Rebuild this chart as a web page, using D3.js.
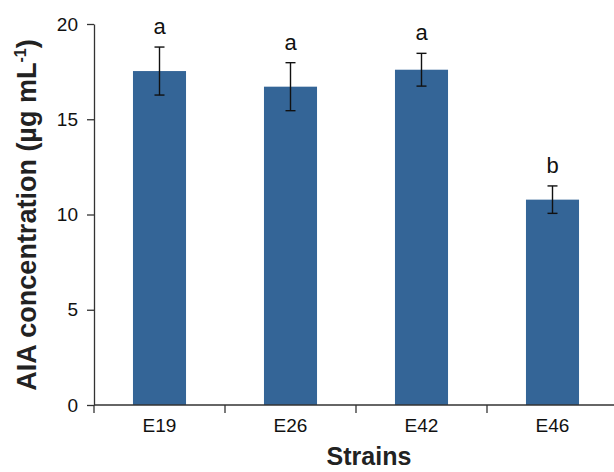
<!DOCTYPE html>
<html>
<head>
<meta charset="utf-8">
<script src="https://cdn.jsdelivr.net/npm/d3@7"></script>
<style>
  body { margin: 0; background: #fff; }
  text { font-family: "Liberation Sans", Arial, sans-serif; }
</style>
</head>
<body>
<div id="viz"></div>
<script>
// data
const strains = ['E19', 'E26', 'E42', 'E46'];
const means = [17.53, 16.71, 17.6, 10.78];
const errs = [1.26, 1.26, 0.86, 0.72];
const letters = ['a', 'a', 'a', 'b'];
const yTicks = [0, 5, 10, 15, 20];

const barColor = '#346597';

const width = 614;
const height = 472;
const margin = { left: 94, top: 24, bottom: 67 };

let svg = d3
  .select('#viz')
  .append('svg')
  .attr('width', width)
  .attr('height', height);

let x = d3
  .scaleBand()
  .domain(strains)
  .range([margin.left, margin.left + 4 * 131])
  .paddingInner(0.595)
  .paddingOuter(0.2975);

let y = d3
  .scaleLinear()
  .domain([0, 20])
  .range([height - margin.bottom, margin.top]);

// bars
svg
  .selectAll('rect.bar')
  .data(strains)
  .enter()
  .append('rect')
  .attr('class', 'bar')
  .attr('x', (d) => x(d))
  .attr('width', x.bandwidth())
  .attr('y', (d, i) => y(means[i]))
  .attr('height', (d, i) => y(0) - y(means[i]))
  .attr('fill', barColor);

// error bars
let eb = svg
  .append('g')
  .attr('stroke', '#111')
  .attr('stroke-width', 1.4);

strains.forEach((s, i) => {
  let cx = x(s) + x.bandwidth() / 2;
  let top = y(means[i] + errs[i]);
  let bot = y(means[i] - errs[i]);
  eb.append('line').attr('x1', cx).attr('x2', cx).attr('y1', top).attr('y2', bot);
  eb.append('line').attr('x1', cx - 5).attr('x2', cx + 5).attr('y1', top).attr('y2', top);
  eb.append('line').attr('x1', cx - 5).attr('x2', cx + 5).attr('y1', bot).attr('y2', bot);

  svg
    .append('text')
    .attr('x', cx)
    .attr('y', top - 13)
    .attr('text-anchor', 'middle')
    .attr('font-size', 22)
    .attr('fill', '#111')
    .text(letters[i]);
});

// x axis with ticks between categories
let xAxis = svg.append('g');
xAxis
  .append('line')
  .attr('x1', margin.left)
  .attr('x2', margin.left + 4 * 131)
  .attr('y1', y(0))
  .attr('y2', y(0))
  .attr('stroke', '#333')
  .attr('stroke-width', 1.3);

d3.range(strains.length + 1).forEach((i) => {
  let tx = i < strains.length ? x(strains[i]) - x.step() * x.paddingOuter() : margin.left + 4 * 131;
  xAxis
    .append('line')
    .attr('x1', tx)
    .attr('x2', tx)
    .attr('y1', y(0))
    .attr('y2', y(0) + 8)
    .attr('stroke', '#333')
    .attr('stroke-width', 1.3);
});

xAxis
  .selectAll('text')
  .data(strains)
  .enter()
  .append('text')
  .attr('x', (d) => x(d) + x.bandwidth() / 2)
  .attr('y', y(0) + 27)
  .attr('text-anchor', 'middle')
  .attr('font-size', 19)
  .attr('fill', '#111')
  .text((d) => d);

// y axis
let yAxis = svg
  .append('g')
  .attr('transform', `translate(${margin.left},0)`)
  .call(d3.axisLeft(y).tickValues(yTicks).tickSize(7).tickSizeOuter(0).tickPadding(9));

yAxis.select('.domain').attr('stroke', '#333').attr('stroke-width', 1.3);
yAxis.selectAll('.tick line').attr('stroke', '#333').attr('stroke-width', 1.3);
yAxis
  .selectAll('.tick text')
  .attr('font-size', 19)
  .attr('fill', '#111')
  .style('font-family', '"Liberation Sans", Arial, sans-serif');

// axis titles
svg
  .append('text')
  .attr('x', 369)
  .attr('y', 465)
  .attr('text-anchor', 'middle')
  .attr('font-size', 25)
  .attr('font-weight', 'bold')
  .attr('fill', '#222')
  .text('Strains');

let yl = svg
  .append('text')
  .attr('transform', 'translate(36,215) rotate(-90)')
  .attr('text-anchor', 'middle')
  .attr('font-size', 27)
  .attr('font-weight', 'bold')
  .attr('fill', '#222');
yl.append('tspan').text('AIA concentration (µg mL');
yl.append('tspan').attr('font-size', 16).attr('dy', -10).text('-1');
yl.append('tspan').attr('dy', 10).text(')');
</script>
</body>
</html>
